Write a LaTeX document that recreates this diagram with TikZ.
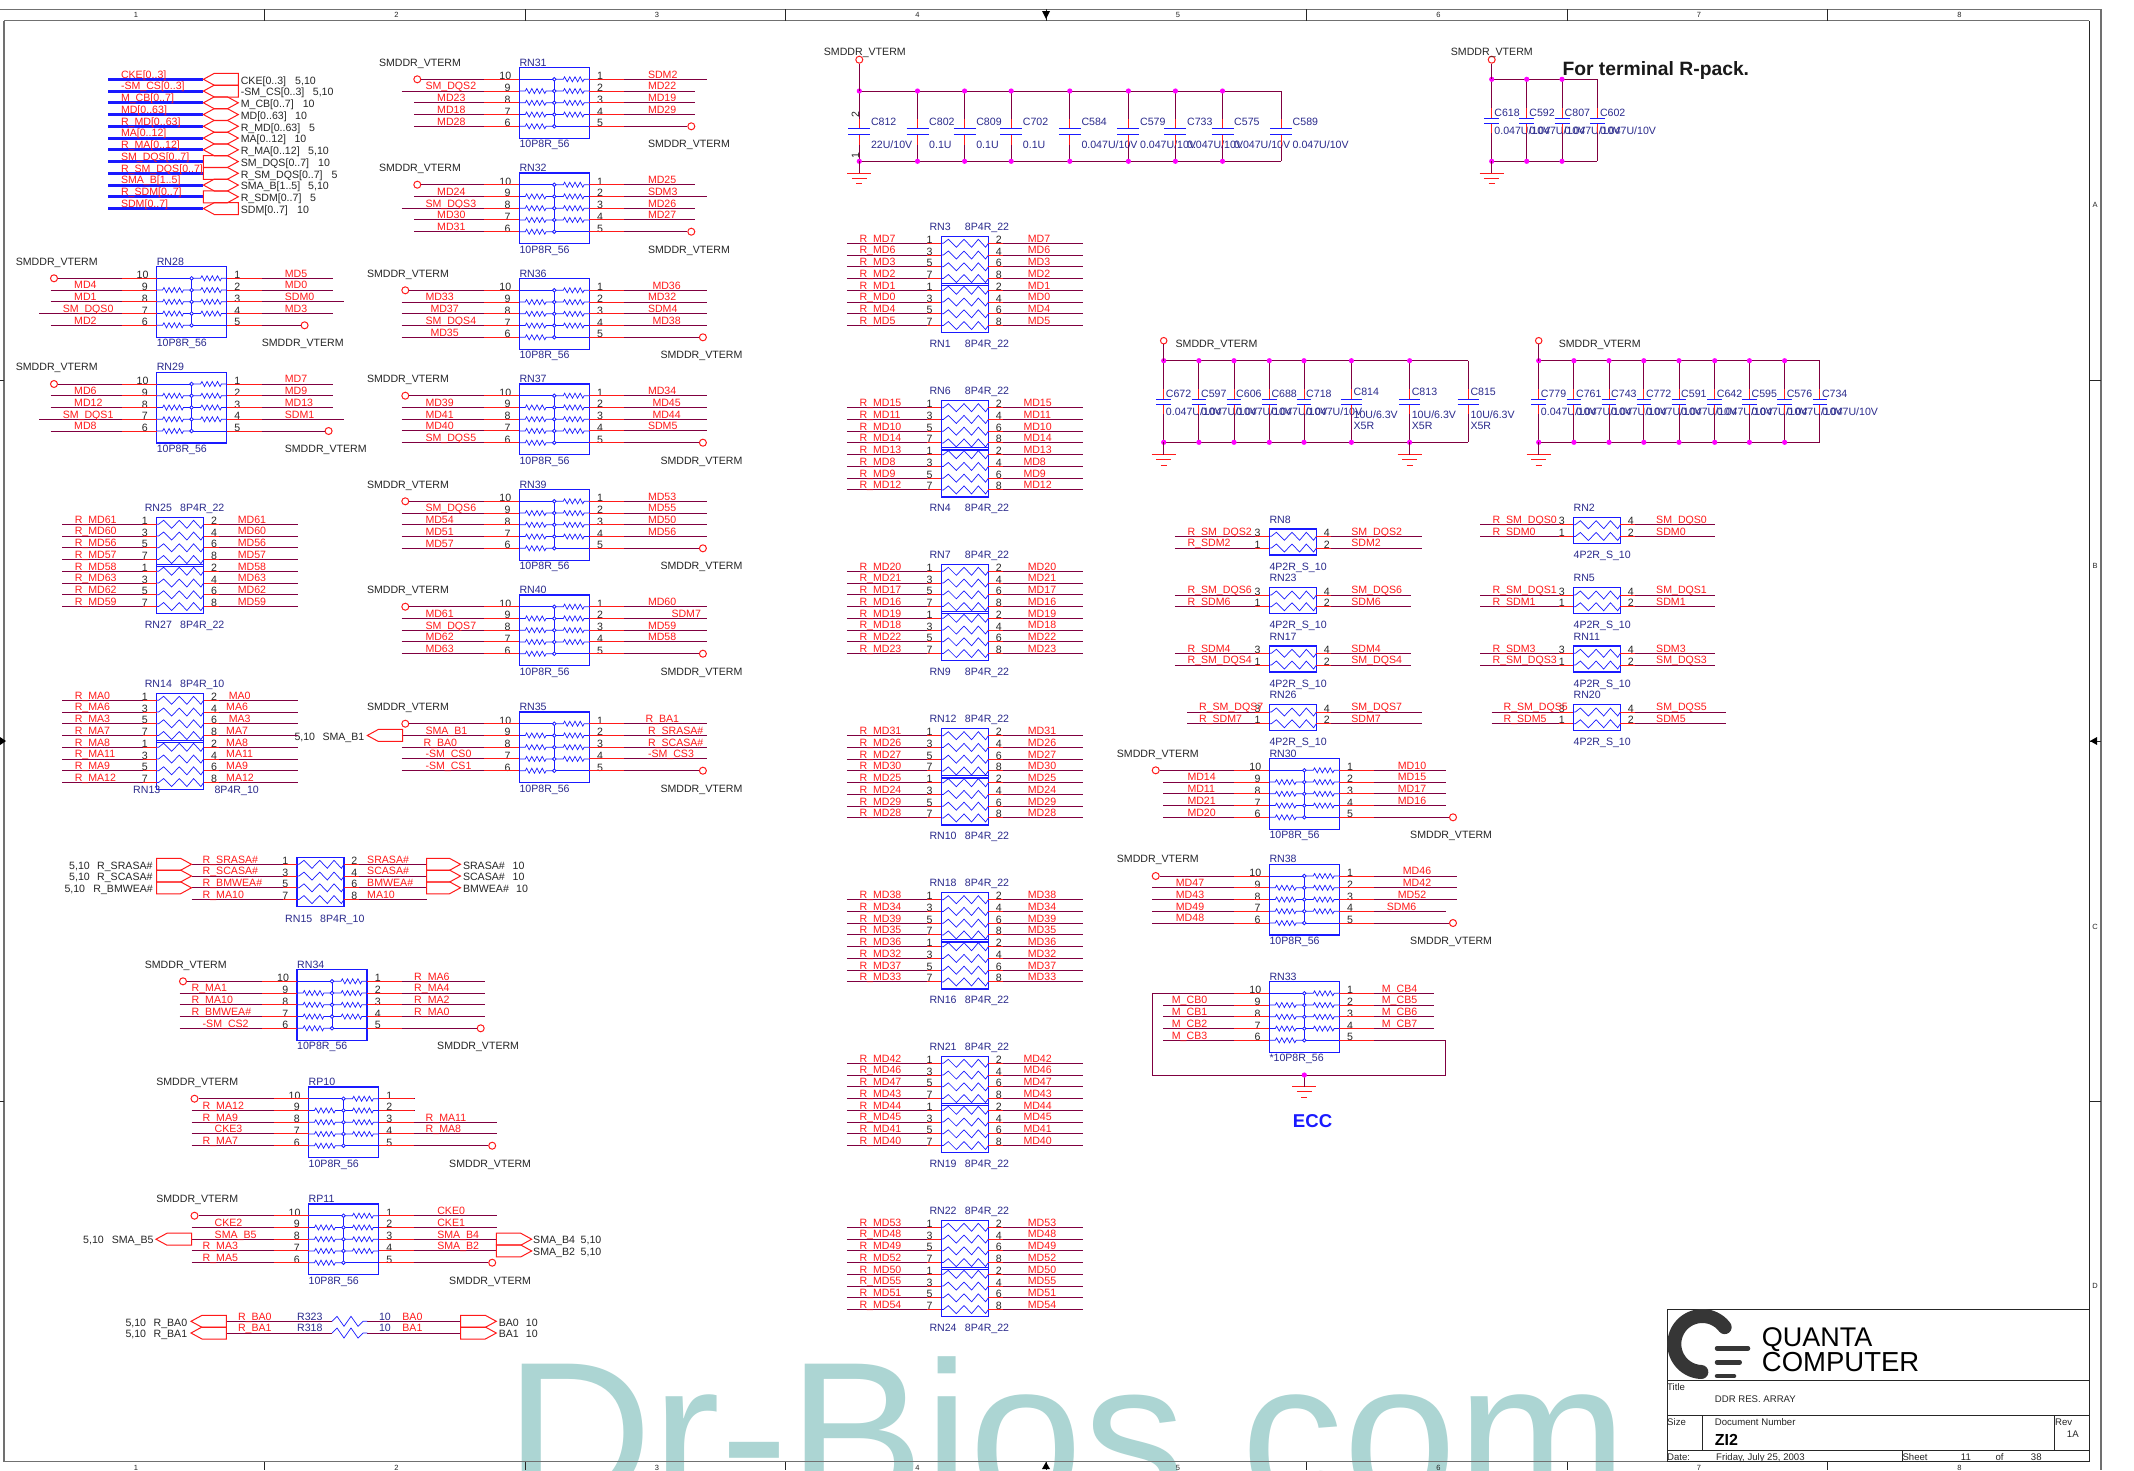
\documentclass[tikz,border=0pt]{standalone}
\usepackage{fontspec}
\setmainfont{Liberation Sans}
\catcode`\_=12
\definecolor{netc}{HTML}{800040}
\definecolor{redc}{HTML}{FF1A1A}
\definecolor{bluec}{HTML}{1A1AFF}
\definecolor{navc}{HTML}{2A2A8C}
\definecolor{framec}{HTML}{707070}
\definecolor{markc}{HTML}{ACD5D3}
\definecolor{magc}{HTML}{FF00FF}
\definecolor{logoc}{HTML}{363636}
\tikzset{
  wire/.style={draw=netc,line width=1pt},
  stub/.style={draw=redc,line width=1pt},
  rw/.style={draw=bluec,line width=.7pt},
  boxs/.style={draw=bluec,line width=1.3pt,inner sep=0pt,outer sep=0pt,rectangle},
  junc/.style={draw=bluec,fill=white,circle,line width=.8pt,inner sep=0pt,minimum size=3.6pt},
  oc/.style={draw=redc,fill=white,circle,line width=1pt,inner sep=0pt,minimum size=7pt},
  mdot/.style={fill=magc,circle,inner sep=0pt,minimum size=5.2pt},
  flagl/.style={draw=redc,line width=1pt},
  plate/.style={draw=bluec,line width=1pt},
  gndl/.style={draw=redc,line width=1pt},
  txt/.style={anchor=base west,inner sep=0pt,font=\fontsize{10.6}{12}\selectfont},
  nett/.style={txt,text=redc},
  navt/.style={txt,text=navc},
  blkt/.style={txt,text=black!85},
  pinn/.style={anchor=base,inner sep=0pt,font=\fontsize{10.6}{12}\selectfont,text=black!85},
  tick/.style={anchor=center,inner sep=0pt,font=\fontsize{7.5}{9}\selectfont,text=black!85},
  frm/.style={draw=framec,line width=1.3pt},
  tb/.style={draw=black!85,line width=1pt},
  tbt/.style={txt,text=black!85,font=\fontsize{9.6}{11}\selectfont},
}
\newcount\tc
\newcommand\Tx[4]{\global\advance\tc by 1\relax\node[#1,name=t\the\tc] at (#2,#3) {#4};}
% small zigzag of the 10-pin packs
\newcommand\Zig[4]{\draw[rw] (#1,#2) -- ++(#3,0) -- ++(1.3,-2.5) -- ++(2.6,5) -- ++(2.6,-5) -- ++(2.6,5) -- ++(2.6,-5) -- ++(2.6,5) -- ++(2.6,-5) -- ++(2.6,5) -- ++(1.3,-2.5) -- ++(#4,0);}
% big zigzag of the 8/4-pin packs
\newcommand\BigZig[2]{\draw[rw] (#1,#2) -- (#1+2,#2) -- (#1+7,#2-4) -- (#1+15,#2+4) -- (#1+22.7,#2-4) -- (#1+30.3,#2+4) -- (#1+37,#2-4) -- (#1+44.3,#2+4) -- (#1+47,#2);}
% flags: x1 x2 y
\newcommand\FlagL[3]{\draw[flagl] (#1,#3) -- (#1+11,#3-6) -- (#2,#3-6) -- (#2,#3+6) -- (#1+11,#3+6) -- cycle;}
\newcommand\FlagR[3]{\draw[flagl] (#1,#3-6) -- (#2-11,#3-6) -- (#2,#3) -- (#2-11,#3+6) -- (#1,#3+6) -- cycle;}
\newcommand\FlagB[3]{\draw[flagl] (#1,#3) -- (#1+11,#3-6) -- (#2-11,#3-6) -- (#2,#3) -- (#2-11,#3+6) -- (#1+11,#3+6) -- cycle;}
% 10-pin pack: name value xb y1 {top/circL/bot/circR} left right
\newcommand\TenP[7]{%
\foreach \tO/\cL/\bO/\cR in {#5}{%
\node[boxs,name=#1,anchor=north west,minimum width=70pt,minimum height=70.7pt] at (#3,#4-11.7) {};
\Tx{navt}{#3}{#4-13.2}{#1}
\Tx{navt}{#3}{#4+68.5}{#2}
\draw[rw] (#3+35,#4) -- (#3+35,#4+47);
\draw[rw] (#3,#4) -- (#3+35,#4);
\draw[rw] (#3+35,#4+47) -- (#3+70,#4+47);
\foreach \i in {1,2,3,4}{\Zig{#3}{#4+\i*11.75}{6}{8.2}}
\foreach \i in {0,1,2,3}{\Zig{#3+35}{#4+\i*11.75}{9}{5.2}}
\foreach \i in {0,1,2,3,4}{\node[junc,name=#1-j\i] at (#3+35,#4+\i*11.75) {};}
\foreach \n/\o [count=\i from 0] in {10/-14,9/-11.7,8/-11.7,7/-11.7,6/-11.7}{\Tx{pinn}{#3+\o}{#4+\i*11.75+.5}{\n}}
\foreach \n [count=\i from 0] in {1,2,3,4,5}{\Tx{pinn}{#3+80.7}{#4+\i*11.75+.5}{\n}}
\coordinate (#1-La0) at (#3,#4);
\coordinate (#1-L0) at (#3-35,#4);
\draw[stub] (#1-L0) -- (#1-La0);
\coordinate (#1-Ra4) at (#3+70,#4+47);
\coordinate (#1-R4) at (#3+105,#4+47);
\draw[stub] (#1-Ra4) -- (#1-R4);
\ifdim\cL pt=0pt\relax\else
\node[oc,name=#1-cL] at (#3+\cL,#4) {};
\node[oc,name=#1-cR] at (#3+\cR,#4+47) {};
\draw[wire] (#1-cL) -- (#1-L0);
\draw[wire] (#1-R4) -- (#1-cR);
\Tx{blkt}{#3+\tO}{#4-13.2}{SMDDR_VTERM}
\Tx{blkt}{#3+\bO}{#4+68.5}{SMDDR_VTERM}
\fi
\foreach \wx/\lx/\tx [count=\i from 1] in {#6}{%
\coordinate (#1-La\i) at (#3,#4+\i*11.75);
\coordinate (#1-L\i) at (#3-35,#4+\i*11.75);
\coordinate (#1-Le\i) at (#3+\wx,#4+\i*11.75);
\draw[wire] (#1-Le\i) -- (#1-L\i);
\draw[stub] (#1-L\i) -- (#1-La\i);
\Tx{nett}{#3+\lx}{#4+\i*11.75-1.2}{\tx}}
\foreach \wx/\lx/\tx [count=\i from 0] in {#7}{%
\coordinate (#1-Ra\i) at (#3+70,#4+\i*11.75);
\coordinate (#1-R\i) at (#3+105,#4+\i*11.75);
\coordinate (#1-Re\i) at (#3+\wx,#4+\i*11.75);
\draw[wire] (#1-R\i) -- (#1-Re\i);
\draw[stub] (#1-Ra\i) -- (#1-R\i);
\Tx{nett}{#3+\lx}{#4+\i*11.75-1.2}{\tx}}
}}
% rows around a 47-wide pack
\newcommand\RowsLR[9]{%
\foreach \tx [count=\i from 0] in {#8}{%
\coordinate (#1-La\i) at (#2,#3+\i*11.75);
\coordinate (#1-L\i) at (#2-14,#3+\i*11.75);
\coordinate (#1-Le\i) at (#2+#4,#3+\i*11.75);
\draw[wire] (#1-Le\i) -- (#1-L\i);
\draw[stub] (#1-L\i) -- (#1-La\i);
\Tx{nett}{#2+#5}{#3+\i*11.75-1.2}{\tx}}
\foreach \tx [count=\i from 0] in {#9}{%
\coordinate (#1-Ra\i) at (#2+47,#3+\i*11.75);
\coordinate (#1-R\i) at (#2+62,#3+\i*11.75);
\coordinate (#1-Re\i) at (#2+#6,#3+\i*11.75);
\draw[wire] (#1-R\i) -- (#1-Re\i);
\draw[stub] (#1-Ra\i) -- (#1-R\i);
\Tx{nett}{#2+#7}{#3+\i*11.75-1.2}{\tx}}
}
\newcommand\FourRow[3]{%
\node[boxs,name=#1,anchor=north west,minimum width=47pt,minimum height=49.3pt] at (#2,#3-7) {};
\foreach \i/\a/\b in {0/1/2,1/3/4,2/5/6,3/7/8}{%
\BigZig{#2}{#3+\i*11.75}
\Tx{pinn}{#2-11.7}{#3+\i*11.75}{\a}
\Tx{pinn}{#2+57.4}{#3+\i*11.75}{\b}}
}
\def\BotN{-12}\def\BotV{23.4}\def\BotY{104.1}
% [right label offset] top bottom value xb y1 left right
\newcommand\EightP[8][86.4]{%
\FourRow{#2}{#5}{#6}
\FourRow{#3}{#5}{#6+47}
\RowsLR{#2x}{#5}{#6}{-94.4}{-82}{141.4}{#1}{#7}{#8}
\Tx{navt}{#5-12}{#6-13.2}{#2}
\Tx{navt}{#5+23.4}{#6-13.2}{#4}
\Tx{navt}{#5+\BotN}{#6+\BotY}{#3}
\Tx{navt}{#5+\BotV}{#6+\BotY}{#4}
}
% name xb y1 lw lx rw rx left right
\newcommand\TwoP[9]{%
\node[boxs,name=#1,anchor=north west,minimum width=47pt,minimum height=26pt] at (#2,#3-7.3) {};
\foreach \i/\a/\b in {0/3/4,1/1/2}{%
\BigZig{#2}{#3+\i*11.75}
\Tx{pinn}{#2-11.7}{#3+\i*11.75}{\a}
\Tx{pinn}{#2+57.4}{#3+\i*11.75}{\b}}
\RowsLR{#1x}{#2}{#3}{#4}{#5}{#6}{#7}{#8}{#9}
\Tx{navt}{#2}{#3-13.2}{#1}
\Tx{navt}{#2}{#3+33.8}{4P2R_S_10}
}
% list name/x/value; top bot p1 p2 hw lxoff yname yval
\newcommand\CapRow[9]{%
\foreach \n/\x/\v in {#1}{%
\coordinate (\n-t) at (\x,#2);
\coordinate (\n-b) at (\x,#3);
\coordinate (\n-1) at (\x,#4);
\coordinate (\n-2) at (\x,#5);
\coordinate (\n-s1) at (\x,#4-10);
\coordinate (\n-s2) at (\x,#5+10);
\draw[wire] (\n-t) -- (\n-s1);
\draw[wire] (\n-s2) -- (\n-b);
\draw[stub] (\n-s1) -- (\n-1);
\draw[stub] (\n-2) -- (\n-s2);
\draw[plate] (\x-#6,#4) -- (\x+#6,#4);
\draw[plate] (\x-#6,#5) -- (\x+#6,#5);
\Tx{navt}{\x+#7}{#8}{\n}
\Tx{navt}{\x+#7}{#9}{\v}}
}
\newcommand\Dots[1]{\foreach \n in {#1}{\node[mdot,name=\n-dt] at (\n-t) {};\node[mdot,name=\n-db] at (\n-b) {};}}
\newcommand\Gnd[3]{%
\coordinate (#1-g) at (#2,#3);
\draw[gndl] (#2-12,#3) -- (#2+12,#3);
\draw[gndl] (#2-7.5,#3+5) -- (#2+7.5,#3+5);
\draw[gndl] (#2-3,#3+10.5) -- (#2+3,#3+10.5);
}
\newcommand\Bus[5]{%
\coordinate (bus#1a) at (108,79.3+#1*11.75);
\coordinate (bus#1b) at (203.4,79.3+#1*11.75);
\draw[draw=bluec,line width=3pt] (bus#1a) -- (bus#1b);
\csname Flag#3\endcsname{203.4}{238.3}{79.3+#1*11.75}
\Tx{nett}{120.8}{79.3+#1*11.75-1.2}{#2}
}
\newcommand\BusT[4]{\Tx{blkt}{240.6}{84.1+#1*11.75}{#2}\Tx{blkt}{#3}{84.1+#1*11.75}{#4}}
\def\vA{0.047U/10V}\def\vB{0.1U}\def\vC{22U/10V}\def\vD{10U/6.3V}
\begin{document}
\begin{tikzpicture}[x=1pt,y=-1pt]
\useasboundingbox (0,0) rectangle (2134,1470);
\clip (0,0) rectangle (2134,1470);
\fill[white] (0,0) rectangle (2134,1470);
% watermark
\node[anchor=base west,inner sep=0pt,text=markc,font=\fontsize{204}{204}\selectfont,name=mark] at (505,1504) {Dr-Bios.com};
% frame
\draw[frm] (0,9.3) -- (2101,9.3);
\draw[frm] (4,20.7) -- (2089.3,20.7) ;
\draw[frm] (4,20.7) -- (4,1461.7) -- (2089.3,1461.7);
\draw[tb] (2089.3,20.7) -- (2089.3,1461.7);
\draw[draw=framec,line width=2pt] (2101,9.3) -- (2101,1470);
\foreach \x in {264.5,525,785.5,1046,1306.5,1567,1827.5}{\draw[tb] (\x,9.3) -- (\x,20.7);\draw[tb] (\x,1461.7) -- (\x,1470);}
\foreach \n [count=\i from 0] in {1,2,3,4,5,6,7,8}{\Tx{tick}{136+\i*260.5}{15}{\n}\Tx{tick}{136+\i*260.5}{1467.5}{\n}}
\foreach \y in {380,741,1101}{\draw[tb] (0,\y) -- (4,\y);\draw[tb] (2089.3,\y) -- (2101,\y);}
\foreach \n/\y in {A/205,B/566,C/927,D/1286}{\Tx{tick}{2095}{\y}{\n}}
\fill[black] (1042,11) -- (1050,11) -- (1046,19) -- cycle;
\fill[black] (1042,1469) -- (1050,1469) -- (1046,1462) -- cycle;
\fill[black] (0,737) -- (0,745) -- (6,741) -- cycle;
\fill[black] (2097,737) -- (2097,745) -- (2090,741) -- cycle;
% buses
\Bus{0}{CKE[0..3]}{L}{}{}
\Bus{1}{-SM_CS[0..3]}{L}{}{}
\Bus{2}{M_CB[0..7]}{B}{}{}
\Bus{3}{MD[0..63]}{B}{}{}
\Bus{4}{R_MD[0..63]}{B}{}{}
\Bus{5}{MA[0..12]}{B}{}{}
\Bus{6}{R_MA[0..12]}{B}{}{}
\Bus{7}{SM_DQS[0..7]}{R}{}{}
\Bus{8}{R_SM_DQS[0..7]}{R}{}{}
\Bus{9}{SMA_B[1..5]}{B}{}{}
\Bus{10}{R_SDM[0..7]}{R}{}{}
\Bus{11}{SDM[0..7]}{L}{}{}
\BusT{0}{CKE[0..3]}{295}{5,10}
\BusT{1}{-SM_CS[0..3]}{312.7}{5,10}
\BusT{2}{M_CB[0..7]}{302.6}{10}
\BusT{3}{MD[0..63]}{295}{10}
\BusT{4}{R_MD[0..63]}{309}{5}
\BusT{5}{MA[0..12]}{294.3}{10}
\BusT{6}{R_MA[0..12]}{308}{5,10}
\BusT{7}{SM_DQS[0..7]}{318}{10}
\BusT{8}{R_SM_DQS[0..7]}{331.5}{5}
\BusT{9}{SMA_B[1..5]}{308}{5,10}
\BusT{10}{R_SDM[0..7]}{310}{5}
\BusT{11}{SDM[0..7]}{297}{10}
% 10-pin packs
\TenP{RN31}{10P8R_56}{519.3}{79.3}{-140.5/-102/128.5/172}
{-117.6/-94/SM_DQS2,-105.3/-82.3/MD23,-105.3/-82.3/MD18,-105.3/-82.3/MD28}
{188/128.5/SDM2,176/128.5/MD22,176/128.5/MD19,176/128.5/MD29}
\TenP{RN32}{10P8R_56}{519.3}{184.7}{-140.5/-102/128.5/172}
{-105.3/-82.3/MD24,-117.6/-94/SM_DQS3,-105.3/-82.3/MD30,-105.3/-82.3/MD31}
{176/128.5/MD25,188/128.5/SDM3,176/128.5/MD26,176/128.5/MD27}
\TenP{RN28}{10P8R_56}{156.6}{278.3}{-141/-102.6/105/148}
{-106/-82.6/MD4,-106/-82.6/MD1,-117.6/-94/SM_DQS0,-106/-82.6/MD2}
{176/128/MD5,176/128/MD0,187.5/128/SDM0,176/128/MD3}
\TenP{RN29}{10P8R_56}{156.6}{384}{-141/-102.6/128/172}
{-106/-82.6/MD6,-106/-82.6/MD12,-117.6/-94/SM_DQS1,-106/-82.6/MD8}
{176/128/MD7,176/128/MD9,176/128/MD13,187.5/128/SDM1}
\TenP{RN36}{10P8R_56}{519.3}{290.3}{-152.5/-114/141/183.6}
{-117.6/-94/MD33,-117.6/-89/MD37,-117.6/-94/SM_DQS4,-117.6/-89/MD35}
{188/133/MD36,188/128.5/MD32,188/128.5/SDM4,188/133/MD38}
\TenP{RN37}{10P8R_56}{519.3}{395.7}{-152.5/-114/141/183.6}
{-117.6/-94/MD39,-117.6/-94/MD41,-117.6/-94/MD40,-117.6/-94/SM_DQS5}
{188/128.5/MD34,188/133/MD45,188/133/MD44,188/128.5/SDM5}
\TenP{RN39}{10P8R_56}{519.3}{501.3}{-152.5/-114/141/183.6}
{-117.6/-94/SM_DQS6,-117.6/-94/MD54,-117.6/-94/MD51,-117.6/-94/MD57}
{188/128.5/MD53,188/128.5/MD55,188/128.5/MD50,188/128.5/MD56}
\TenP{RN40}{10P8R_56}{519.3}{606.7}{-152.5/-114/141/183.6}
{-117.6/-94/MD61,-117.6/-94/SM_DQS7,-117.6/-94/MD62,-117.6/-94/MD63}
{188/128.5/MD60,188/152/SDM7,188/128.5/MD59,188/128.5/MD58}
\TenP{RN35}{10P8R_56}{519.3}{723.7}{-152.5/-114/141/183.6}
{-117.6/-94/SMA_B1,-117.6/-96/R_BA0,-117.6/-94/-SM_CS0,-117.6/-94/-SM_CS1}
{188/126/R_BA1,188/128.5/R_SRASA\#,188/128.5/R_SCASA\#,188/128.5/-SM_CS3}
\FlagL{367.3}{402.6}{735.45}
\Tx{blkt}{294.3}{740.1}{5,10}
\Tx{blkt}{322.3}{740.1}{SMA_B1}
\TenP{RN34}{10P8R_56}{297}{981.3}{-152.4/-114/140/183.7}
{-117.5/-105.5/R_MA1,-117.5/-105.5/R_MA10,-117.5/-105.5/R_BMWEA\#,-117.5/-94.5/-SM_CS2}
{188/117/R_MA6,188/117/R_MA4,188/117/R_MA2,188/117/R_MA0}
\TenP{RP10}{10P8R_56}{308.5}{1098.7}{-152.4/-114/140.5/183.7}
{-117/-106/R_MA12,-117/-106/R_MA9,-117/-94/CKE3,-117/-106/R_MA7}
{105.6/0/\relax,105.6/0/\relax,188/117/R_MA11,188/117/R_MA8}
\TenP{RP11}{10P8R_56}{308.5}{1215.7}{-152.4/-114/140.5/183.7}
{-117/-94/CKE2,-117/-94/SMA_B5,-117/-106/R_MA3,-117/-106/R_MA5}
{188/128.6/CKE0,188/128.6/CKE1,188/128.6/SMA_B4,188/128.6/SMA_B2}
\FlagL{156}{191.5}{1239.2}
\Tx{blkt}{83}{1243.8}{5,10}
\Tx{blkt}{111.6}{1243.8}{SMA_B5}
\FlagR{496.3}{531.7}{1239.2}
\FlagR{496.3}{531.7}{1250.95}
\Tx{blkt}{533}{1243.8}{SMA_B4}\Tx{blkt}{580.5}{1243.8}{5,10}
\Tx{blkt}{533}{1255.1}{SMA_B2}\Tx{blkt}{580.5}{1255.1}{5,10}
\TenP{RN30}{10P8R_56}{1269.3}{770.3}{-152.6/-113.6/140.7/183.7}
{-106/-82/MD14,-106/-82/MD11,-106/-82/MD21,-106/-82/MD20}
{176.4/128.4/MD10,176.4/128.4/MD15,176.4/128.4/MD17,176.4/128.4/MD16}
\TenP{RN38}{10P8R_56}{1269.3}{876}{-152.6/-113.6/140.7/183.7}
{-117.3/-93.6/MD47,-117.3/-93.6/MD43,-117.3/-93.6/MD49,-117.3/-93.6/MD48}
{188/133.4/MD46,188/133.4/MD42,188/128.4/MD52,176.4/117.4/SDM6}
\TenP{RN33}{*10P8R_56}{1269.3}{993.3}{0/0/0/0}
{-106/-97.6/M_CB0,-106/-97.6/M_CB1,-106/-97.6/M_CB2,-106/-97.6/M_CB3}
{164.4/112.4/M_CB4,164.4/112.4/M_CB5,164.4/112.4/M_CB6,164.4/112.4/M_CB7}
\coordinate (ecc-a) at (1152,993.3);
\coordinate (ecc-b) at (1152,1075);
\coordinate (ecc-c) at (1445.3,1075);
\coordinate (ecc-d) at (1445.3,1040.3);
\coordinate (ecc-g) at (1304.3,1075);
\draw[wire] (RN33-L0) -- (ecc-a) -- (ecc-b) -- (ecc-c) -- (ecc-d) -- (RN33-R4);
\Gnd{eccg}{1304.3}{1086.7}
\draw[wire] (ecc-g) -- (eccg-g);
\node[mdot,name=eccdot] at (ecc-g) {};
\Tx{txt,text=bluec,font=\fontsize{18.6}{20}\bfseries}{1292.7}{1127.4}{ECC}
% 8-pin double packs
\EightP{RN3}{RN1}{8P4R_22}{941.3}{243.3}
{R_MD7,R_MD6,R_MD3,R_MD2,R_MD1,R_MD0,R_MD4,R_MD5}{MD7,MD6,MD3,MD2,MD1,MD0,MD4,MD5}
\EightP[82]{RN6}{RN4}{8P4R_22}{941.3}{407.7}
{R_MD15,R_MD11,R_MD10,R_MD14,R_MD13,R_MD8,R_MD9,R_MD12}{MD15,MD11,MD10,MD14,MD13,MD8,MD9,MD12}
\EightP{RN7}{RN9}{8P4R_22}{941.3}{571.3}
{R_MD20,R_MD21,R_MD17,R_MD16,R_MD19,R_MD18,R_MD22,R_MD23}{MD20,MD21,MD17,MD16,MD19,MD18,MD22,MD23}
\EightP{RN12}{RN10}{8P4R_22}{941.3}{735.7}
{R_MD31,R_MD26,R_MD27,R_MD30,R_MD25,R_MD24,R_MD29,R_MD28}{MD31,MD26,MD27,MD30,MD25,MD24,MD29,MD28}
\EightP{RN18}{RN16}{8P4R_22}{941.3}{899.7}
{R_MD38,R_MD34,R_MD39,R_MD35,R_MD36,R_MD32,R_MD37,R_MD33}{MD38,MD34,MD39,MD35,MD36,MD32,MD37,MD33}
\EightP[82]{RN21}{RN19}{8P4R_22}{941.3}{1063.3}
{R_MD42,R_MD46,R_MD47,R_MD43,R_MD44,R_MD45,R_MD41,R_MD40}{MD42,MD46,MD47,MD43,MD44,MD45,MD41,MD40}
\EightP{RN22}{RN24}{8P4R_22}{941.3}{1227.3}
{R_MD53,R_MD48,R_MD49,R_MD52,R_MD50,R_MD55,R_MD51,R_MD54}{MD53,MD48,MD49,MD52,MD50,MD55,MD51,MD54}
\EightP[81]{RN25}{RN27}{8P4R_22}{156.6}{524.3}
{R_MD61,R_MD60,R_MD56,R_MD57,R_MD58,R_MD63,R_MD62,R_MD59}{MD61,MD60,MD56,MD57,MD58,MD63,MD62,MD59}
\def\BotN{-23.6}\def\BotV{57.8}\def\BotY{92.8}
\EightP[69.4]{RN14}{RN13}{8P4R_10}{156.6}{700.3}
{R_MA0,R_MA6,R_MA3,R_MA7,R_MA8,R_MA11,R_MA9,R_MA12}{\hspace{2.6pt}MA0,MA6,\hspace{2.6pt}MA3,MA7,MA8,MA11,MA9,MA12}
% RN15
\FourRow{RN15}{297}{864.3}
\RowsLR{RN15x}{297}{864.3}{-105.5}{-94.5}{129.5}{70}{R_SRASA\#,R_SCASA\#,R_BMWEA\#,R_MA10}{SRASA\#,SCASA\#,BMWEA\#,MA10}
\Tx{navt}{285}{922.1}{RN15}
\Tx{navt}{320}{922.1}{8P4R_10}
\FlagR{156.6}{191.5}{864.3}
\FlagR{156.6}{191.5}{876.05}
\FlagR{156.6}{191.5}{887.8}
\Tx{blkt}{69}{869.1}{5,10}\Tx{blkt}{97}{869.1}{R_SRASA\#}
\Tx{blkt}{69}{880.8}{5,10}\Tx{blkt}{97}{880.8}{R_SCASA\#}
\Tx{blkt}{64.3}{892.1}{5,10}\Tx{blkt}{93.2}{892.1}{R_BMWEA\#}
\FlagR{426.5}{460.5}{864.3}
\FlagR{426.5}{460.5}{876.05}
\FlagR{426.5}{460.5}{887.8}
\Tx{blkt}{462.8}{869.1}{SRASA\#}\Tx{blkt}{512.4}{869.1}{10}
\Tx{blkt}{462.8}{880.8}{SCASA\#}\Tx{blkt}{512.4}{880.8}{10}
\Tx{blkt}{462.8}{892.1}{BMWEA\#}\Tx{blkt}{516}{892.1}{10}
% R323 / R318
\foreach \nm/\y/\a/\b/\c [count=\i] in {R323/1321.3/R_BA0/BA0/BA0,R318/1333/R_BA1/BA1/BA1}{%
\coordinate (\nm-l) at (226.4,\y);
\coordinate (\nm-a) at (332,\y);
\coordinate (\nm-b) at (367.3,\y);
\coordinate (\nm-r) at (460.5,\y);
\draw[wire] (\nm-l) -- (\nm-a);
\draw[wire] (\nm-b) -- (\nm-r);
\draw[rw] (\nm-a) -- ++(5,-5) -- ++(7,10) -- ++(7,-10) -- ++(7,10) -- ++(5,-5) -- (\nm-b);
\FlagL{191}{226.4}{\y}
\FlagR{460.5}{496.3}{\y}
\Tx{nett}{237.8}{\y-1.2}{\a}
\Tx{navt}{297}{\y-1.2}{\nm}
\Tx{navt}{378.8}{\y-1.2}{10}
\Tx{nett}{402.2}{\y-1.2}{\b}
\Tx{blkt}{125.3}{\y+4.8}{5,10}
\Tx{blkt}{153.4}{\y+4.8}{\a}
\Tx{blkt}{498.6}{\y+4.8}{\c}
\Tx{blkt}{525.7}{\y+4.8}{10}}
% 4-pin packs
\TwoP{RN8}{1269.3}{536.3}{-94.4}{-82}{153}{81.8}{R_SM_DQS2,R_SDM2}{SM_DQS2,SDM2}
\TwoP{RN23}{1269.3}{595}{-94.4}{-82}{141.3}{81.8}{R_SM_DQS6,R_SDM6}{SM_DQS6,SDM6}
\TwoP{RN17}{1269.3}{653.3}{-94.4}{-82}{141.3}{81.8}{R_SDM4,R_SM_DQS4}{SDM4,SM_DQS4}
\TwoP{RN26}{1269.3}{712}{-82.3}{-70.4}{153}{81.8}{R_SM_DQS7,R_SDM7}{SM_DQS7,SDM7}
\TwoP{RN2}{1573.4}{524.7}{-93.4}{-81}{141.8}{82.6}{R_SM_DQS0,R_SDM0}{SM_DQS0,SDM0}
\TwoP{RN5}{1573.4}{595}{-93.4}{-81}{141.8}{82.6}{R_SM_DQS1,R_SDM1}{SM_DQS1,SDM1}
\TwoP{RN11}{1573.4}{653.3}{-93.4}{-81}{141.8}{82.6}{R_SDM3,R_SM_DQS3}{SDM3,SM_DQS3}
\TwoP{RN20}{1573.4}{712}{-81.7}{-70}{153}{82.6}{R_SM_DQS5,R_SDM5}{SM_DQS5,SDM5}
% capacitors group 1
\CapRow{C812/859.3/\vC,C802/917.5/\vB,C809/964.6/\vB,C702/1011.2/\vB,C584/1069.8/\vA,C579/1128.4/\vA,C733/1175.4/\vA,C575/1222.5/\vA,C589/1281/\vA}{91}{161.3}{128.7}{134.7}{11}{11.5}{125.1}{148.1}
\draw[wire] (C812-t) -- (C589-t);
\draw[wire] (C812-b) -- (C589-b);
\Dots{C812,C802,C809,C702,C584,C579,C733,C575}
\node[oc,name=vt1] at (859.3,59.7) {};
\draw[wire] (vt1) -- (C812-t);
\Tx{blkt}{823.7}{55.1}{SMDDR_VTERM}
\Gnd{g1}{859.3}{173.3}
\draw[wire] (C812-b) -- (g1-g);
\node[pinn,rotate=90,anchor=center,name=c812p2] at (855.5,115) {2};
\node[pinn,rotate=90,anchor=center,name=c812p1] at (855.5,156) {1};
% group 2
\CapRow{C672/1163.7/\vA,C597/1198.9/\vA,C606/1234/\vA,C688/1269.3/\vA,C718/1304/\vA}{360.7}{442.3}{399.3}{404.3}{7.3}{2}{397.1}{415.1}
\CapRow{C814/1351.4/\vD,C813/1409.6/\vD,C815/1468.3/\vD}{360.7}{442.3}{399.3}{404.3}{10.7}{2}{395.1}{418.1}
\foreach \x in {1353.4,1411.6,1470.3}{\Tx{navt}{\x}{429.1}{X5R}}
\draw[wire] (C672-t) -- (C815-t);
\draw[wire] (C672-b) -- (C815-b);
\Dots{C672,C597,C606,C688,C718,C814,C813}
\node[oc,name=vt2,minimum size=6.5pt] at (1163.7,340.7) {};
\draw[wire] (vt2) -- (C672-t);
\Tx{blkt}{1175.4}{347.1}{SMDDR_VTERM}
\Gnd{g2}{1163.7}{454.7}
\draw[wire] (C672-b) -- (g2-g);
\Gnd{g3}{1409.6}{454.7}
\draw[wire] (C813-b) -- (g3-g);
% group 3
\CapRow{C779/1538.7/\vA,C761/1573.9/\vA,C743/1609/\vA,C772/1643.8/\vA,C591/1679/\vA,C642/1714.7/\vA,C595/1749.4/\vA,C576/1784.6/\vA,C734/1819.8/\vA}{360.7}{442.3}{399.3}{404.3}{7.3}{2}{397.1}{415.1}
\draw[wire] (C779-t) -- (C734-t);
\draw[wire] (C779-b) -- (C734-b);
\Dots{C779,C761,C743,C772,C591,C642,C595,C576}
\node[oc,name=vt3,minimum size=6.5pt] at (1538.7,340.7) {};
\draw[wire] (vt3) -- (C779-t);
\Tx{blkt}{1558.6}{347.1}{SMDDR_VTERM}
\Gnd{g4}{1538.7}{454.7}
\draw[wire] (C779-b) -- (g4-g);
% group 4
\CapRow{C618/1491.7/\vA,C592/1526.7/\vA,C807/1562/\vA,C602/1597.3/\vA}{79.3}{161.3}{118.3}{123}{7.5}{2.5}{116.1}{134.5}
\draw[wire] (C618-t) -- (C602-t);
\draw[wire] (C618-b) -- (C602-b);
\Dots{C618,C592,C807}
\node[oc,name=vt4] at (1491.7,59.7) {};
\draw[wire] (vt4) -- (C618-t);
\Tx{blkt}{1450.7}{55.1}{SMDDR_VTERM}
\Gnd{g5}{1491.7}{173.3}
\draw[wire] (C618-b) -- (g5-g);
\Tx{txt,text=black!90,font=\fontsize{19.3}{21}\bfseries}{1562.3}{75}{For terminal R-pack.}
% title block
\draw[tb] (1667.3,1309.3) rectangle (2089.3,1461.7);
\draw[tb] (1667.3,1380) -- (2089.3,1380);
\draw[tb] (1667.3,1415) -- (2089.3,1415);
\draw[tb] (1667.3,1450) -- (2089.3,1450);
\draw[tb] (1702.7,1415) -- (1702.7,1450);
\draw[tb] (2054.3,1415) -- (2054.3,1450);
\draw[tb] (1902.3,1450) -- (1902.3,1461.7);
\draw[logoc,line width=14pt,line cap=round] plot[domain=-37:-268,samples=50] ({1702.3+28*cos(\x)},{1344+28*sin(\x)});
\draw[logoc,line width=4.5pt,line cap=round] (1717,1348.3) -- (1748,1348.3);
\draw[logoc,line width=4.5pt,line cap=round] (1717,1362.3) -- (1739.7,1362.3);
\draw[logoc,line width=4.5pt,line cap=round] (1717,1376) -- (1734,1376);
\Tx{txt,text=black,font=\fontsize{27}{29}\selectfont}{1761.7}{1346.5}{QUANTA}
\Tx{txt,text=black,font=\fontsize{27.5}{29}\selectfont}{1761.7}{1371}{COMPUTER}
\Tx{tbt}{1667}{1390}{Title}
\Tx{tbt}{1714.7}{1402}{DDR RES. ARRAY}
\Tx{tbt}{1667}{1425}{Size}
\Tx{tbt}{1714.7}{1425}{Document Number}
\Tx{txt,text=black,font=\fontsize{16}{18}\bfseries}{1714.7}{1445}{ZI2}
\Tx{tbt}{2055}{1425}{Rev}
\Tx{tbt}{2066.7}{1437}{1A}
\Tx{tbt}{1667}{1460}{Date:}
\Tx{tbt}{1716}{1460}{Friday, July 25, 2003}
\Tx{tbt}{1902.3}{1460}{Sheet}
\Tx{tbt}{1960.7}{1460}{11}
\Tx{tbt}{1995.3}{1460}{of}
\Tx{tbt}{2030.7}{1460}{38}
\end{tikzpicture}
\end{document}
